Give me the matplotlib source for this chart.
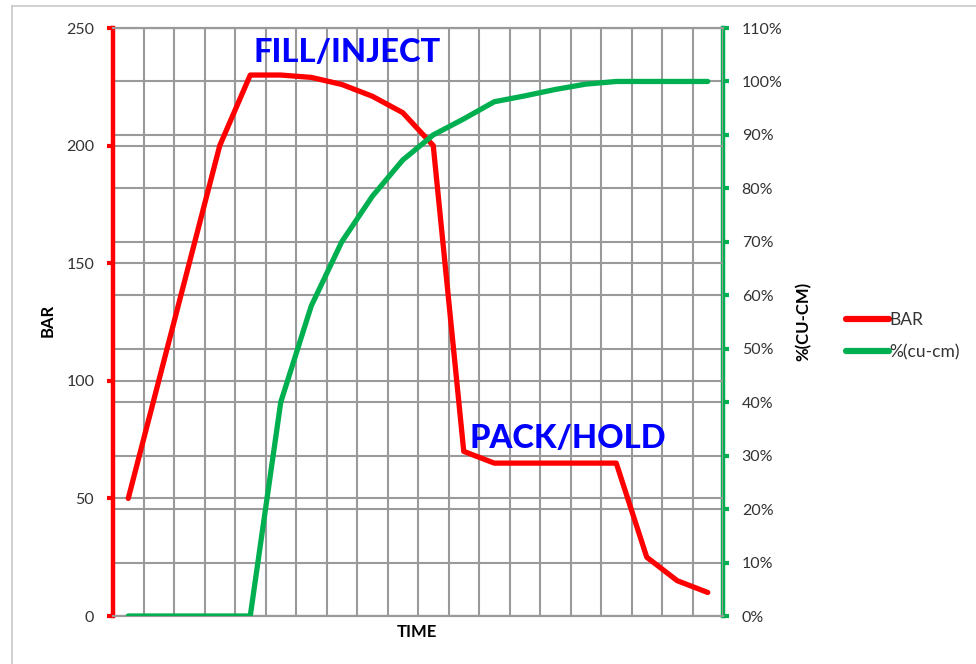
import matplotlib
matplotlib.use("Agg")
import matplotlib.pyplot as plt
from matplotlib.lines import Line2D
from matplotlib.ticker import FixedLocator, FuncFormatter

# ---- data ----
time_idx = list(range(20))
bar = [50, 100, 150, 200, 230, 230, 229, 226, 221, 214, 200, 70, 65, 65, 65, 65, 65, 25, 15, 10]
pct = [0, 0, 0, 0, 0, 40, 58, 70, 78.5, 85.3, 90, 93, 96.2, 97.3, 98.5, 99.5, 100, 100, 100, 100]
left_ticks = [0, 50, 100, 150, 200, 250]
right_ticks = [0, 10, 20, 30, 40, 50, 60, 70, 80, 90, 100, 110]

RED = "#ff0000"
GREEN = "#00b050"
GRID = "#9a9a9a"
TXT = "#333333"
FONT = "Lato"

plt.rcParams['font.family'] = [FONT, 'DejaVu Sans']

fig = plt.figure(figsize=(9.76, 6.64), dpi=100)
W, H = 976, 664
x0, x1, y0, y1 = 113, 723, 28, 616
rect = [x0 / W, 1 - y1 / H, (x1 - x0) / W, (y1 - y0) / H]

ax = fig.add_axes(rect)
ax2 = ax.twinx()
ax.set_zorder(ax2.get_zorder() + 1)
ax.patch.set_visible(False)

ax.set_xlim(-0.5, len(time_idx) - 0.5)
ax.set_ylim(0, 250)
ax2.set_ylim(0, 110)

# grids
ax.xaxis.set_major_locator(FixedLocator([i - 0.5 for i in range(len(time_idx) + 1)]))
ax.set_xticklabels([])
ax.tick_params(axis='x', length=0)
ax.grid(True, axis='both', color=GRID, lw=1.5)
ax2.grid(True, axis='y', color=GRID, lw=1.5)

ax.set_yticks(left_ticks)
ax2.set_yticks(right_ticks)
ax2.yaxis.set_major_formatter(FuncFormatter(lambda v, p: f"{int(v)}%"))

ax.tick_params(axis='y', colors=RED, width=3, length=4.5, direction='out',
               labelcolor=TXT, labelsize=11.5, pad=9)
ax2.tick_params(axis='y', colors=GREEN, width=3, length=4.5, direction='out',
                labelcolor=TXT, labelsize=11.5, pad=9)

for a in (ax, ax2):
    a.spines['top'].set_color(GRID)
    a.spines['top'].set_linewidth(1.5)
    a.spines['bottom'].set_color(GRID)
    a.spines['bottom'].set_linewidth(1.5)
ax.spines['right'].set_visible(False)
ax2.spines['left'].set_visible(False)
ax.spines['left'].set_color(RED)
ax.spines['left'].set_linewidth(3.2)
ax2.spines['right'].set_color(GREEN)
ax2.spines['right'].set_linewidth(3.2)

# lines (green uses the secondary scale)
l_bar, = ax.plot(time_idx, bar, color=RED, lw=3.8, solid_capstyle='round',
                 solid_joinstyle='round', label='BAR', zorder=3)
l_pct, = ax.plot(time_idx, pct, color=GREEN, lw=3.8, solid_capstyle='round',
                 solid_joinstyle='round', label='%(cu-cm)', zorder=3,
                 transform=ax2.transData)

# axis titles
fig.text(48 / W, 1 - 320 / H, "BAR", rotation=90, ha='center', va='center',
         fontsize=12, fontweight='bold', color='black')
fig.text(803 / W, 1 - 321 / H, "%(CU-CM)", rotation=90, ha='center', va='center',
         fontsize=12, fontweight='bold', color='black')
fig.text(417 / W, 1 - 632 / H, "TIME", ha='center', va='center',
         fontsize=12, fontweight='bold', color='black')

# annotations
fig.text(347 / W, 1 - 53 / H, "FILL/INJECT", ha='center', va='center',
         fontsize=23.5, fontweight='black', color='#0000ff')
fig.text(568 / W, 1 - 438 / H, "PACK/HOLD", ha='center', va='center',
         fontsize=23.5, fontweight='black', color='#0000ff')

# legend
leg = fig.legend(handles=[l_bar, l_pct], loc='center left',
                 bbox_to_anchor=(830 / W, 1 - 336 / H), frameon=False,
                 fontsize=12.5, handlelength=2.5, handletextpad=0.02,
                 labelspacing=0.95)
for t in leg.get_texts():
    t.set_color(TXT)
for h in leg.legend_handles:
    h.set_linewidth(4.5)

# outer chart border
fig.add_artist(Line2D([12 / W, 1], [1 - 6 / H, 1 - 6 / H], color='#c8c8c8', lw=1.2))
fig.add_artist(Line2D([12 / W, 12 / W], [0, 1 - 6 / H], color='#c8c8c8', lw=1.2))

fig.savefig("out.png", dpi=100, facecolor='white')
